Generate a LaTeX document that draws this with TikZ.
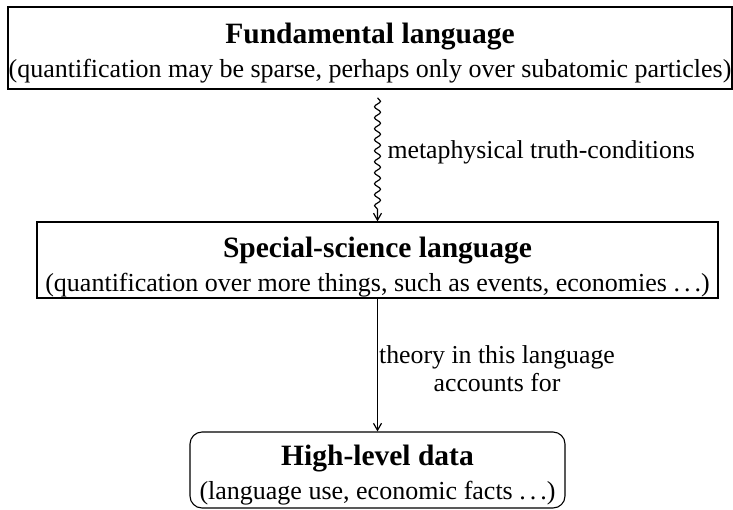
\documentclass[tikz,border=0pt]{standalone}
\usepackage{fontspec}
\setmainfont{Liberation Serif}
\usetikzlibrary{decorations.pathmorphing,arrows.meta}
\tikzset{
  box/.style={draw, line width=1.6pt, inner sep=0pt},
  txt/.style={inner sep=0pt, align=center},
  lbl/.style={font=\fontsize{25.8}{28}\selectfont, align=center},
  arr/.style={line width=1.2pt, -{Straight Barb[length=7pt,width=8pt]}},
}
\newcommand{\twolines}[2]{{\fontsize{29.5}{31}\selectfont\bfseries #1}\\[8pt]{\fontsize{26}{31}\selectfont #2}}
\newcommand{\sdots}{.\kern4pt.\kern4pt.}
\begin{document}
\begin{tikzpicture}[x=1pt,y=-1pt]
\useasboundingbox (0,0) rectangle (733,509);
\node[box, minimum width=724pt, minimum height=82pt] (fund) at (370,48) {};
\node[txt] (fundt) at ([yshift=-5pt]fund.center)
  {\twolines{Fundamental language}{(quantification may be sparse, perhaps only over subatomic particles)}};
\node[box, line width=1.3pt, minimum width=681pt, minimum height=76pt] (spec) at (377.5,260) {};
\node[txt] (spect) at ([yshift=-7pt]spec.center)
  {\twolines{Special-science language}{(quantification over more things, such as events, economies \sdots)}};
\node[box, line width=1.1pt, rounded corners=12pt, minimum width=375pt, minimum height=76pt] (data) at (377.5,470) {};
\node[txt] (datat) at ([yshift=-5pt]data.center)
  {\twolines{High-level data}{(language use, economic facts \sdots)}};
\coordinate (w1) at ([yshift=-8pt]fund.south -| spec.north);
\draw[arr, decorate, decoration={snake, amplitude=3pt, segment length=11pt, post length=7pt}] (w1) -- (spec.north);
\node[lbl, anchor=west] (l1) at (384,152) {metaphysical truth-conditions};
\draw[arr] (spec.south) -- (data.north);
\node[lbl] (l2) at (497,369) {theory in this language\\accounts for};
\end{tikzpicture}
\end{document}
